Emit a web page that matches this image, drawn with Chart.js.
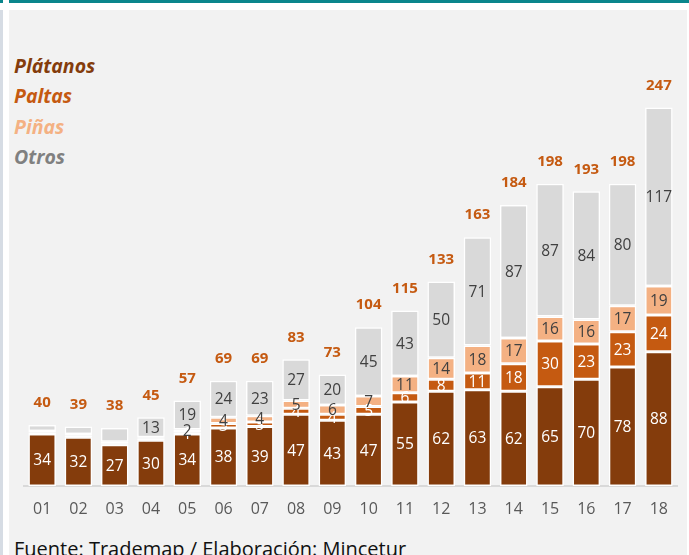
<!DOCTYPE html>
<html>
<head>
<meta charset="utf-8">
<script src="https://cdn.jsdelivr.net/npm/chart.js@4"></script>
<style>
  html, body { margin: 0; padding: 0; background: #ffffff; }
  #wrap { position: relative; width: 689px; height: 555px; overflow: hidden; }
  .abs { position: absolute; }
  #tealA { left: 0; top: 0; width: 3px; height: 3px; background: #0A868C; }
  #tealB { left: 9px; top: 0; width: 680px; height: 3px; background: #0A868C; }
  #strip { left: 0; top: 10px; width: 3px; height: 545px; background: #D6DCE4; }
  #panel { left: 9px; top: 10px; width: 678px; height: 545px; background: #F2F2F2; }
  #chart { left: 0; top: 0; }
  .leg { left: 14px; font-family: "Open Sans", sans-serif; font-weight: 700; font-style: italic; font-size: 19.5px; line-height: 20px; }
  #source { left: 14px; top: 535px; font-family: "Open Sans", sans-serif; font-size: 20px; color: #111; white-space: nowrap; }
</style>
</head>
<body>
<div id="wrap">
  <div id="tealA" class="abs"></div>
  <div id="tealB" class="abs"></div>
  <div id="strip" class="abs"></div>
  <div id="panel" class="abs"></div>
  <div class="abs leg" style="top:56px;color:#843C0C">Plátanos</div>
  <div class="abs leg" style="top:86px;color:#C55A11">Paltas</div>
  <div class="abs leg" style="top:117px;color:#F4B183">Piñas</div>
  <div class="abs leg" style="top:147px;color:#808080">Otros</div>
  <div id="source" class="abs">Fuente: Trademap / Elaboración: Mincetur</div>
  <canvas id="chart" class="abs" width="689" height="555"></canvas>
</div>
<script>
const categories = ["01","02","03","04","05","06","07","08","09","10","11","12","13","14","15","16","17","18"];
const platanos = [34,32,27,30,34,38,39,47,43,47,55,62,63,62,65,70,78,88];
const paltas   = [1,1,1,1,1,3,3,4,4,5,6,8,11,18,30,23,23,24];
const pinas    = [1,1,1,1,2,4,4,5,6,7,11,14,18,17,16,16,17,19];
const otros    = [4,5,9,13,19,24,23,27,20,45,43,50,71,87,87,84,80,117];
const totals   = [40,39,38,45,57,69,69,83,73,104,115,133,163,184,198,193,198,247];
// first category index from which a series shows its value label
const labelFrom = [0, 4, 4, 3];

const labelPlugin = {
  id: 'segLabels',
  afterDatasetsDraw(chart) {
    const ctx = chart.ctx;
    ctx.save();
    ctx.textAlign = 'center';
    ctx.textBaseline = 'middle';
    chart.data.datasets.forEach((ds, di) => {
      const meta = chart.getDatasetMeta(di);
      meta.data.forEach((bar, i) => {
        if (i < labelFrom[di]) return;
        const v = ds.data[i];
        const y = (bar.y + bar.base) / 2;
        ctx.font = '15.5px "Open Sans", sans-serif';
        ctx.fillStyle = ds.labelColor;
        ctx.fillText(String(v), bar.x, y + 1);
      });
    });
    // totals
    const lastMeta = chart.getDatasetMeta(chart.data.datasets.length - 1);
    ctx.font = 'bold 15px "Open Sans", sans-serif';
    ctx.fillStyle = '#C55A11';
    lastMeta.data.forEach((bar, i) => {
      ctx.fillText(String(totals[i]), bar.x, bar.y - 22);
    });
    ctx.restore();
  }
};

const mk = (label, data, color, labelColor) => ({
  label, data, backgroundColor: color, borderColor: '#FFFFFF', borderWidth: 1.5,
  borderSkipped: false, labelColor, barPercentage: 0.76, categoryPercentage: 1.0
});

new Chart(document.getElementById('chart'), {
  type: 'bar',
  data: {
    labels: categories,
    datasets: [
      mk('Plátanos', platanos, '#843C0C', '#FFFFFF'),
      mk('Paltas', paltas, '#C55A11', '#FFFFFF'),
      mk('Piñas', pinas, '#F4B183', '#404040'),
      mk('Otros', otros, '#D9D9D9', '#404040')
    ]
  },
  options: {
    responsive: false,
    animation: false,
    layout: { padding: { left: 24, right: 12, top: 28, bottom: 0 } },
    plugins: { legend: { display: false }, tooltip: { enabled: false } },
    scales: {
      x: {
        stacked: true,
        grid: { display: false, drawTicks: false },
        border: { display: true, color: '#D9D9D9', width: 2 },
        ticks: { color: '#595959', font: { family: 'Open Sans', size: 16 }, padding: 14, maxRotation: 0, autoSkip: false },
        afterFit(scale) { scale.height = 69; }
      },
      y: {
        stacked: true, display: false, min: 0, max: 300
      }
    }
  },
  plugins: [labelPlugin]
});
</script>
</body>
</html>
